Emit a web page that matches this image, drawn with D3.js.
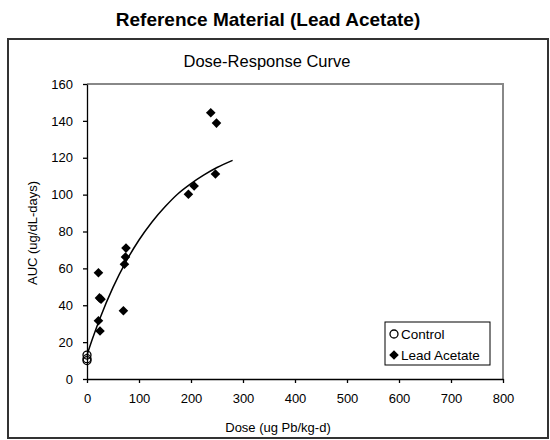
<!DOCTYPE html>
<html><head><meta charset="utf-8">
<script src="https://cdn.jsdelivr.net/npm/d3@7"></script>
<style>body{margin:0;background:#fff}svg{display:block;font-family:"Liberation Sans",Arial,sans-serif}</style>
</head><body><svg id="c" width="550" height="440"></svg>
<script>
const controlDose = [0, 0, 0];
const controlAUC = [13, 11, 10];
const leadDose = [238, 249, 247, 195, 206, 75, 74, 72, 22, 24, 27, 22, 25, 70];
const leadAUC = [144.4, 138.8, 111.2, 100.2, 104.7, 71, 66.2, 62.2, 57.6, 44, 43.3, 31.6, 26, 37];
const curveDose = [0, 10, 25, 50, 75, 100, 125, 150, 175, 200, 225, 250, 280];
const curveAUC = [13, 21.4, 33, 49.7, 63.7, 75.4, 85.2, 93.4, 100.5, 106, 110.7, 114.7, 118.6];
const xTicks = [0, 100, 200, 300, 400, 500, 600, 700, 800];
const yTicks = [0, 20, 40, 60, 80, 100, 120, 140, 160];

const svg = d3.select("#c");
const L = 87, R = 503, T = 84, B = 379;
const x = d3.scaleLinear().domain([0, 800]).range([L, R]);
const y = d3.scaleLinear().domain([0, 160]).range([B, T]);
const FS = 13;

svg.append("text").attr("x", 268).attr("y", 26).attr("text-anchor", "middle")
  .attr("font-size", 19).attr("font-weight", "bold").text("Reference Material (Lead Acetate)");
svg.append("rect").attr("x", 8).attr("y", 39).attr("width", 540).attr("height", 399)
  .attr("fill", "none").attr("stroke", "#333").attr("stroke-width", 2);
svg.append("text").attr("x", 267).attr("y", 67).attr("text-anchor", "middle")
  .attr("font-size", 16.5).text("Dose-Response Curve");

// plot area border
svg.append("path").attr("d", `M${L},${T}H${R}V${B}`).attr("fill", "none")
  .attr("stroke", "#888").attr("stroke-width", 2);

const ya = svg.append("g").attr("transform", `translate(${L},0)`)
  .call(d3.axisLeft(y).tickValues(yTicks).tickSize(4).tickPadding(10).tickSizeOuter(0));
const xa = svg.append("g").attr("transform", `translate(0,${B})`)
  .call(d3.axisBottom(x).tickValues(xTicks).tickSize(4).tickPadding(11).tickSizeOuter(0));
[ya, xa].forEach(a => {
  a.selectAll("path,line").attr("stroke", "#000").attr("stroke-width", 1.3);
  a.selectAll("text").attr("font-size", FS).attr("fill", "#000")
   .attr("font-family", "'Liberation Sans',Arial,sans-serif");
});

svg.append("text").attr("x", 278).attr("y", 432).attr("text-anchor", "middle")
  .attr("font-size", FS).text("Dose (ug Pb/kg-d)");
svg.append("text").attr("transform", "translate(37,233) rotate(-90)").attr("text-anchor", "middle")
  .attr("font-size", FS).text("AUC (ug/dL-days)");

// curve
const cdata = curveDose.map((d, i) => [d, curveAUC[i]]);
svg.append("path").datum(cdata)
  .attr("d", d3.line().x(d => x(d[0])).y(d => y(d[1])).curve(d3.curveMonotoneX))
  .attr("fill", "none").attr("stroke", "#000").attr("stroke-width", 1.5);

const diamond = d3.symbol().type(d3.symbolSquare).size(46);
svg.append("g").selectAll("path").data(leadDose.map((d, i) => [d, leadAUC[i]])).join("path")
  .attr("d", diamond).attr("transform", d => `translate(${x(d[0])},${y(d[1])}) rotate(45)`)
  .attr("fill", "#000");

svg.append("g").selectAll("circle").data(controlDose.map((d, i) => [d, controlAUC[i]])).join("circle")
  .attr("cx", d => x(d[0])).attr("cy", d => y(d[1])).attr("r", 4)
  .attr("fill", "none").attr("stroke", "#000").attr("stroke-width", 1.3);

// legend
const lg = svg.append("g");
lg.append("rect").attr("x", 385).attr("y", 322).attr("width", 105).attr("height", 43)
  .attr("fill", "#fff").attr("stroke", "#000").attr("stroke-width", 1);
lg.append("circle").attr("cx", 394).attr("cy", 334).attr("r", 4)
  .attr("fill", "none").attr("stroke", "#000").attr("stroke-width", 1.3);
lg.append("path").attr("d", diamond).attr("transform", "translate(394,355) rotate(45)").attr("fill", "#000");
lg.append("text").attr("x", 401).attr("y", 339).attr("font-size", 13.5).text("Control");
lg.append("text").attr("x", 401).attr("y", 360).attr("font-size", 13.5).text("Lead Acetate");
</script></body></html>
